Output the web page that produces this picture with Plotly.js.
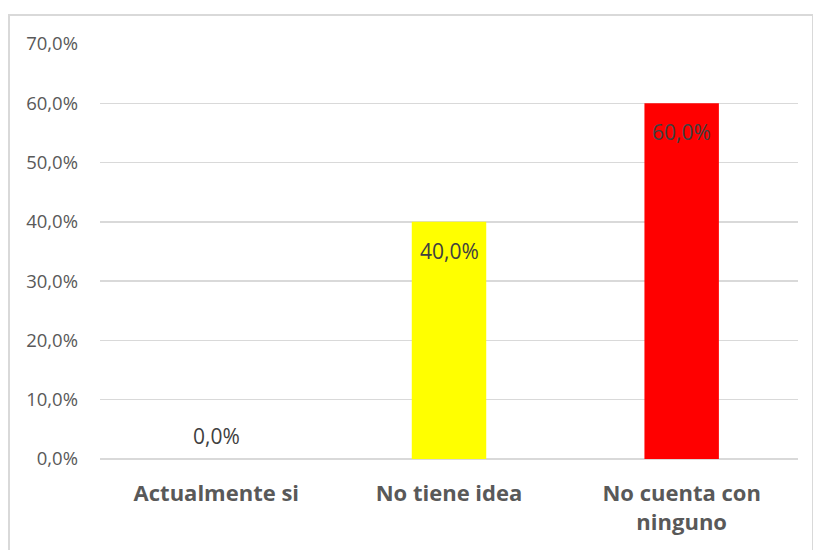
<!DOCTYPE html>
<html><head><meta charset="utf-8">
<script src="https://cdn.plot.ly/plotly-3.0.1.min.js"></script>
<style>
html,body{margin:0;padding:0;background:#fff;}
#wrap{position:relative;width:813px;height:550px;}
#chart{position:absolute;left:0;top:0;width:813px;height:550px;}
#frame{position:absolute;left:8px;top:14px;width:802px;height:545px;border:2px solid #d9d9d9;pointer-events:none;}
</style></head>
<body>
<div id="wrap"><div id="frame"></div><div id="chart"></div></div>
<script>
const categories = ["Actualmente si", "No tiene idea", "No cuenta con<br>ninguno"];
const values = [0.0, 0.40, 0.60];
const barColors = ["#FFFF00", "#FFFF00", "#FF0000"];
const yTickVals = [0, 0.1, 0.2, 0.3, 0.4, 0.5, 0.6, 0.7];

const font = "'Open Sans', sans-serif";

const annotations = values.map((v, i) => ({
  x: categories[i], y: v, xref: 'x', yref: 'y',
  text: (v * 100).toFixed(1).replace('.', ',') + '%',
  showarrow: false, yanchor: 'middle',
  yshift: v === 0 ? 23 : -29,
  font: {family: font, size: 21, color: '#404040'}
}));

const trace = {
  type: 'bar', x: categories, y: values,
  marker: {color: barColors},
  hoverinfo: 'none'
};

const layout = {
  width: 813, height: 550,
  margin: {l: 100, r: 15, t: 44, b: 91},
  paper_bgcolor: 'rgba(0,0,0,0)', plot_bgcolor: 'rgba(0,0,0,0)',
  separators: ',.',
  bargap: 0.68,
  showlegend: false,
  font: {family: font, color: '#595959'},
  xaxis: {
    type: 'category', showgrid: false, showline: false, zeroline: false,
    ticks: '', ticklabelstandoff: 19,
    tickfont: {family: font, size: 22, color: '#595959', weight: 'bold'}
  },
  yaxis: {
    range: [0, 0.7], tickvals: yTickVals, tickformat: '.1%',
    showgrid: true, gridcolor: '#d9d9d9', gridwidth: 1.3,
    zeroline: true, zerolinecolor: '#d9d9d9', zerolinewidth: 1.3,
    showline: false, ticks: '', ticklabelstandoff: 21,
    tickfont: {family: font, size: 18.5, color: '#595959'}
  },
  annotations: annotations
};

Plotly.newPlot('chart', [trace], layout, {displayModeBar: false, staticPlot: true});
</script>
</body></html>
